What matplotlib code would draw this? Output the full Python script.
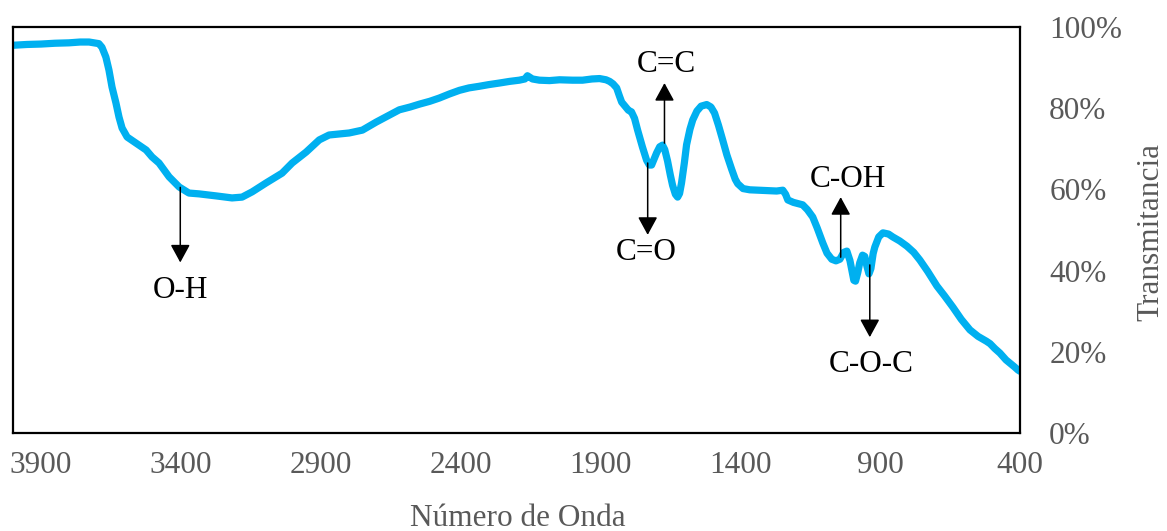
import matplotlib
matplotlib.use("Agg")
import matplotlib.pyplot as plt
from matplotlib.ticker import FixedLocator, FuncFormatter

# ---- data ----
wavenumber = [4000, 3950, 3900, 3850, 3800, 3760, 3728, 3710, 3693, 3682, 3668,
              3657, 3646, 3632, 3621, 3610, 3592, 3560, 3524, 3503, 3478, 3442,
              3406, 3371, 3335, 3274, 3217, 3181, 3145, 3095, 3038, 3002, 2952,
              2905, 2870, 2798, 2751, 2701, 2619, 2580, 2547, 2510, 2476, 2440,
              2404, 2370, 2333, 2300, 2261, 2225, 2190, 2170, 2161, 2152, 2143,
              2118, 2082, 2046, 2000, 1964, 1930, 1903, 1880, 1867, 1855, 1842,
              1832, 1824, 1800, 1789, 1778, 1767, 1750, 1735, 1725, 1717, 1708,
              1699, 1688, 1678, 1670, 1660, 1650, 1642, 1632, 1624, 1617, 1610,
              1600, 1592, 1580, 1570, 1555, 1540, 1520, 1505, 1492, 1478, 1463,
              1448, 1431, 1418, 1409, 1390, 1366, 1300, 1270, 1248, 1238, 1230,
              1210, 1177, 1160, 1141, 1125, 1105, 1090, 1073, 1058, 1044, 1030,
              1019, 1008, 1001, 994, 988, 980, 973, 963, 955, 947, 940, 933, 925,
              919, 905, 890, 870, 855, 830, 804, 780, 758, 730, 697, 670, 640,
              610, 579, 550, 520, 507, 490, 472, 450, 436, 420, 407, 400]
transmittance = [95.5, 95.7, 95.8, 96.0, 96.1, 96.3, 96.3, 96.1, 95.9, 95.0, 92.6,
                 89.4, 85.2, 81.3, 77.8, 75.1, 72.9, 71.4, 69.7, 68.0, 66.5, 63.1,
                 60.6, 59.1, 58.9, 58.4, 57.9, 58.1, 59.4, 61.6, 64.0, 66.5, 69.2,
                 72.2, 73.4, 73.9, 74.6, 76.6, 79.6, 80.3, 81.0, 81.7, 82.5, 83.5,
                 84.4, 85.0, 85.4, 85.8, 86.2, 86.6, 86.9, 87.2, 88.0, 87.6, 87.2,
                 86.9, 86.8, 87.0, 86.9, 86.9, 87.2, 87.3, 87.0, 86.6, 86.0, 85.0,
                 83.0, 81.5, 79.5, 79.1, 77.5, 74.6, 70.5, 67.2, 66.0, 66.0, 67.5,
                 69.0, 70.5, 70.9, 69.8, 67.0, 63.5, 61.0, 58.8, 58.1, 59.0, 61.6,
                 66.5, 71.0, 74.8, 77.1, 79.3, 80.5, 80.9, 80.3, 78.8, 75.8, 72.2,
                 68.5, 65.0, 62.5, 61.4, 60.2, 59.9, 59.7, 59.6, 59.8, 58.8, 57.4,
                 56.8, 56.2, 55.0, 53.2, 50.5, 46.8, 44.3, 42.8, 42.4, 42.8, 44.5,
                 44.8, 42.5, 40.1, 37.6, 37.4, 39.5, 41.9, 43.8, 43.5, 41.0, 39.2,
                 40.5, 44.2, 45.8, 48.3, 49.3, 49.0, 48.3, 47.3, 46.0, 44.5, 42.6,
                 39.8, 36.2, 33.8, 31.0, 28.0, 25.4, 23.8, 22.6, 22.0, 20.8, 19.7,
                 18.0, 17.2, 16.3, 15.5, 15.2]

xticks = [3900, 3400, 2900, 2400, 1900, 1400, 900, 400]
yticks = [0, 20, 40, 60, 80, 100]

# annotations: label, arrow x, arrow start (on curve), arrow tip, label x, label baseline y
ann_labels = ["O-H", "C=O", "C=C", "C-OH", "C-O-C"]
ann_arrow_x = [3402, 1731, 1671, 1041, 937]
ann_from = [60.5, 66.5, 71.4, 43.3, 41.4]
ann_to = [42.0, 48.8, 86.2, 58.1, 23.6]
ann_text_x = [3402, 1735, 1663, 1017, 931]
ann_text_y = [33.3, 42.6, 88.9, 60.6, 15.0]

# ---- figure ----
W, H = 1167, 531
fig = plt.figure(figsize=(W / 100, H / 100), dpi=100)
L, R, T, B = 13, 1020, 27, 433
ax = fig.add_axes([L / W, 1 - B / H, (R - L) / W, (B - T) / H])

ax.plot(wavenumber, transmittance, color="#00B0F0", lw=5.2,
        solid_capstyle="round", solid_joinstyle="round")

ax.set_xlim(4000, 400)
ax.set_ylim(0, 100)
ax.xaxis.set_major_locator(FixedLocator(xticks))
ax.yaxis.set_major_locator(FixedLocator(yticks))
ax.yaxis.set_major_formatter(FuncFormatter(lambda v, p: f"{v:.0f}%"))
ax.yaxis.tick_right()

serif = ["Liberation Serif", "DejaVu Serif"]
fs = 22.5
ax.tick_params(axis="both", length=0, labelsize=fs, labelcolor="#595959")
ax.tick_params(axis="x", pad=13)
ax.tick_params(axis="y", pad=21)
for lab in ax.get_xticklabels() + ax.get_yticklabels():
    lab.set_family(serif)

for s in ax.spines.values():
    s.set_linewidth(1.6)
    s.set_color("black")

ax.set_xlabel("Número de Onda", fontsize=fs, color="#595959", family=serif)
ax.xaxis.label.set_va("baseline")
ax.xaxis.set_label_coords((518 - L) / (R - L), (B - 526) / (B - T))

ax.yaxis.set_label_position("right")
ax.set_ylabel("Transmitancia", fontsize=fs, color="#595959", family=serif,
              rotation=90)
ax.yaxis.label.set_va("center")
ax.yaxis.label.set_ha("center")
ax.yaxis.set_label_coords((1151 - L) / (R - L), (B - 232) / (B - T))

for lab, axp, y0, y1, tx, ty in zip(ann_labels, ann_arrow_x, ann_from, ann_to,
                                    ann_text_x, ann_text_y):
    ax.annotate("", xy=(axp, y1), xytext=(axp, y0),
                arrowprops=dict(arrowstyle="-|>,head_length=0.55,head_width=0.3",
                                mutation_scale=20, color="black", lw=1.1,
                                shrinkA=0, shrinkB=0))
    ax.text(tx, ty, lab, ha="center", va="baseline", fontsize=fs,
            color="black", family=serif)

fig.savefig("out.png", dpi=100)
